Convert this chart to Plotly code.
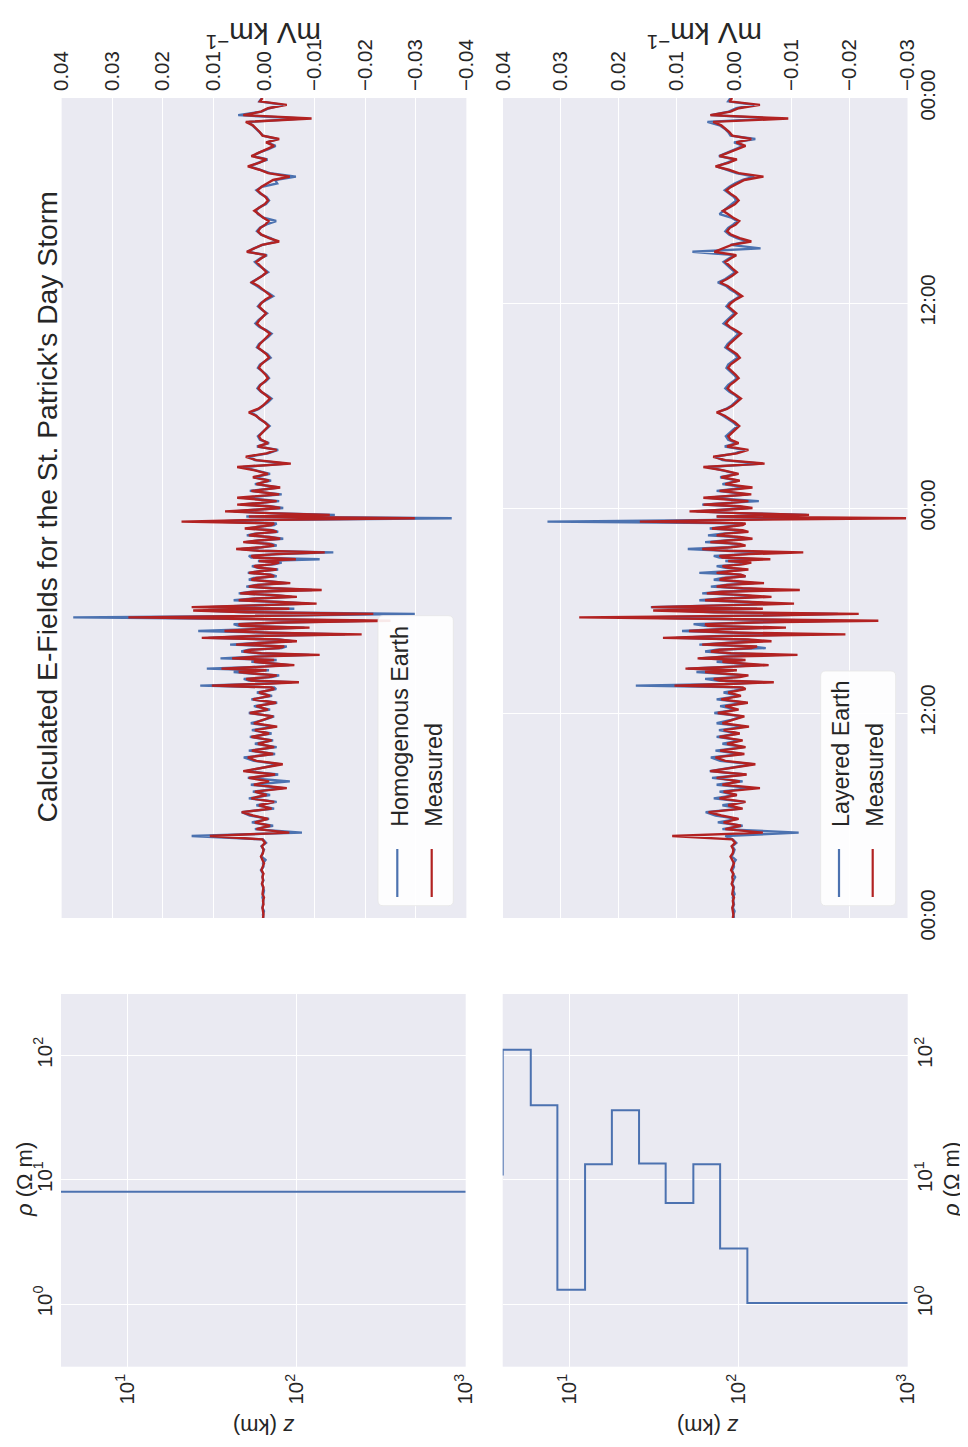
import plotly.graph_objects as go

# page offset (browser body margin) compensated so that pixel positions match the window
OFF = 8
W, H = 968 - OFF, 1447 - OFF
FONT = "Liberation Sans, Arial, sans-serif"
TXT = "#262626"
BLUE = "#4C72B0"
RED = "#B22222"
BG = "#EAEAF2"

# ---------------- data ----------------
# Sampling grid, hours after 2015-03-17 00:00 UT: (first sample, step, number of samples)
sampling_segments = [(0.0, 0.2, 68), (13.5, 0.1, 110), (24.6, 0.2, 118)]

# E-field values in units of 1e-3 mV/km
e_measured_milli = [
    # 0.0 - 13.4 h
    0.2, 0.1, 0.2, 0.3, 0.1, 0.2, 0.0, 0.3, 0.2, 0.1, 0.4, 0.2, 0.3, 0.1, 0.5, 0.2, 0.0, 0.3, 0.6, 0.2, 0.1, 0.4, -0.2, 0.3,
    10.7, -5.0,
    1.5, -1.2, 1.8, -0.8, 2.2, 4.4, -1.5, 1.0, -2.0, 2.5, -0.5, 1.8, -4.5, 2.0, -1.0, 3.0, -2.2, 4.1, 0.5, -3.7, 1.5, 3.2, -1.8, 2.4, -2.0, 1.2, -1.5,
    2.5, -1.0, 1.8, -2.6, 2.0, 0.2, -1.8, 2.8, -0.8, 1.5, -2.4, 2.2, -1.2, 1.0, -2.0,
    # 13.5 - 24.4 h
    -1.5, 10.3, 1.0, -6.9, 2.5, 3.5, -1.0, -2.5, 1.5, 5.0, -0.5, 8.4, 1.0, -6.0, -1.5, 2.0, -2.0, 6.3, 1.5, -11.0,
    0.5, 4.0, 2.5, -3.0, -4.0, 5.5, 1.0, -6.5, -2.5, 12.3, 3.0, -19.3, -1.0, 7.8, 2.0, -9.0, 4.5, 5.0, -3.5, -25.0,
    2.0, 26.8, -4.0, -21.6, 3.0, 14.0, -5.0, 14.3, 2.0, -10.4, -3.0, 5.0, 1.5, -6.5, -2.0, 4.7, 2.0, -11.4, -1.5, 3.0,
    1.2, -5.2, -1.0, 2.5, 1.5, -2.0, -1.2, 3.0, 0.8, -2.5, 1.0, 2.0, -1.5, -3.0, 1.0, -6.3, 2.0, 2.5, -2.5, -12.0,
    1.0, 5.5, 0.5, -2.0, -1.0, 4.1, 1.0, -3.2, -1.0, 3.0, 1.5, -2.5, -1.5, 3.8, 1.0, -1.5, -2.0, 16.3, 2.0, -29.8,
    3.0, -13.0, -1.0, 7.7, 1.5, -3.2, -1.0, 5.3, 0.5, -2.5,
    # 24.6 - 48.0 h
    5.3, -3.0, 2.5, -3.2, 1.5, -1.0, 2.2, -0.8, 1.8, 5.3, -5.3, 1.5, 3.6, -0.5, -2.5, 1.2, -0.8,
    0.6, 1.0, 0.4, -0.3, -0.9, -0.2, 0.8, 1.6, 3.0, 1.2, 0.2, -0.6, -1.2, -0.4, 0.5, 1.1, 0.7, -0.1, -0.8, -0.3, 0.4,
    1.0, 0.6, -0.2, -1.0, -0.5, 0.3, 1.2, 0.8, 0.1, -0.6,
    -1.2, -0.3, 0.7, 1.4, 0.9, 0.2, -0.4, 0.3, 1.0, 0.5,
    -0.3, -1.4, -0.6, 0.4, 1.1, 2.4, 1.2, 0.3, -0.5, 0.2,
    0.9, 1.5, 0.6, -0.4, 3.4, 1.8, 0.4, -3.0, -1.0, 0.5,
    1.2, 0.7, -0.3, -0.9, 0.2, 1.0, 1.9, 0.8, -0.2, -0.8,
    -0.3, 0.6, 1.3, 0.5, -0.6, -1.8, -5.1, -0.8, 0.9, 3.2,
    1.0, -0.5, 2.5, 0.9, -0.6, -2.0, -0.4, -3.0, 0.3, 0.8,
    1.5, 2.2, 3.6, -9.4, 4.1, 0.6, -0.8, -4.5, 0.8, 0.3,
]

e_homogeneous_milli = [
    # 0.0 - 13.4 h
    0.1, 0.2, 0.0, 0.3, 0.2, 0.1, 0.3, 0.2, 0.0, 0.2, 0.4, 0.1, 0.3, 0.2, 0.6, 0.1, 0.2, -0.3, 0.5, 0.3, 0.0, 0.5, -0.4, 0.2,
    14.3, -7.5,
    1.8, -1.8, 2.4, -1.0, 2.8, 4.4, -2.0, 1.5, -2.5, 3.0, -1.2, 2.2, -3.8, 2.6, -5.1, 3.2, -2.8, 3.5, 0.2, -3.0, 2.0, 4.0, -2.2, 3.0, -2.5, 1.8, -1.8,
    2.8, -1.5, 2.4, -2.2, 2.6, 0.0, -2.0, 3.0, -1.2, 2.0, -2.6, 2.5, -1.6, 1.4, -2.4,
    # 13.5 - 24.4 h
    -2.0, 12.6, 1.5, -5.5, 3.0, 4.0, -1.5, -3.0, 2.0, 6.0, -1.0, 11.3, 1.5, -5.0, -2.0, 2.5, -2.5, 8.6, 2.0, -9.0,
    1.0, 4.5, 3.0, -3.5, -4.5, 6.7, 1.5, -5.5, -3.0, 11.0, 3.5, -16.0, -1.5, 13.0, 2.5, -8.0, 5.0, 6.0, -4.0, -20.0,
    2.5, 37.7, -5.0, -29.8, 3.5, 12.0, -6.0, 11.0, 2.5, -9.0, -3.5, 6.0, 2.0, -5.5, -2.5, 5.0, 2.5, -9.5, -2.0, 3.5,
    1.5, -4.5, -1.5, 3.0, 2.0, -2.5, -1.5, 3.2, 1.0, -2.8, 1.2, 2.4, -2.0, -3.5, 1.2, -11.0, 2.5, 3.0, -3.0, -13.7,
    1.2, 4.5, 0.5, -2.5, -1.5, 3.6, 1.2, -3.8, -1.2, 3.4, 1.8, -2.8, -1.8, 3.2, 1.2, -2.0, -2.5, 10.0, 2.5, -37.1,
    3.5, -14.0, -1.2, 6.0, 1.8, -3.8, -1.2, 4.6, 0.6, -3.0,
    # 24.6 - 48.0 h
    4.0, -3.5, 2.8, -3.0, 1.8, -1.4, 2.0, -1.2, 1.6, 4.2, -4.5, 1.8, 3.0, -0.8, -2.8, 1.4, -1.0,
    0.8, 1.2, 0.5, -0.4, -1.1, -0.3, 0.9, 1.5, 2.6, 1.0, 0.0, -0.8, -1.5, -0.6, 0.6, 1.3, 0.8, -0.3, -1.0, -0.5, 0.3,
    1.2, 0.8, -0.4, -1.3, -0.7, 0.4, 1.4, 1.0, 0.0, -0.8,
    -1.5, -0.5, 0.9, 1.7, 1.1, 0.3, -0.6, 0.4, 1.2, 0.6,
    -0.5, -1.8, -0.8, 0.5, 1.4, 2.6, 1.4, 0.2, -0.8, 0.1,
    1.1, 1.8, 0.8, -0.6, 3.3, 2.0, 0.3, -2.6, -1.3, 0.6,
    1.4, 0.8, -0.5, -2.4, 0.1, 1.2, 1.6, 0.9, -0.4, -1.0,
    -0.5, 0.7, 1.5, 0.4, -2.6, -2.2, -6.3, -1.2, 1.0, 2.8,
    1.2, -0.7, 2.2, 1.0, -0.9, -2.3, -0.6, -2.6, 0.2, 0.9,
    1.8, 2.4, 3.0, -7.5, 5.1, 0.5, -1.0, -3.8, 0.9, 0.4,
]

e_layered_milli = [
    # 0.0 - 13.4 h
    0.0, 0.1, -0.1, 0.2, 0.0, 0.1, 0.2, -0.1, 0.1, 0.0, 0.3, 0.1, -0.2, 0.2, 0.3, 0.0, 0.1, -0.3, 0.4, 0.1, -0.1, 0.3, -0.4, 0.2,
    1.5, -11.2,
    2.0, -1.5, 2.8, -0.6, 3.2, 4.9, -1.2, 2.0, -1.8, 3.5, -0.4, 2.5, -3.0, 3.0, -1.5, 3.8, -2.0, 4.2, 0.8, -3.2, 2.4, 4.0, -1.4, 3.2, -1.8, 2.0, -1.2,
    3.0, -0.8, 2.6, -2.0, 3.0, 0.5, -1.5, 3.4, -0.5, 2.4, -2.0, 3.0, -1.0, 1.8, -1.6,
    # 13.5 - 24.4 h
    -1.0, 17.0, 1.5, -5.0, 3.0, 5.0, -0.5, -2.0, 2.0, 6.5, 0.0, 8.0, 1.5, -4.5, -1.0, 3.0, -1.5, 6.0, 2.0, -7.2,
    1.0, 5.0, 3.0, -5.5, -3.0, 6.0, 1.5, -4.0, -2.0, 10.0, 3.5, -12.0, -0.5, 9.0, 2.5, -6.5, 5.0, 7.0, -3.0, -17.0,
    2.5, 17.6, -3.5, -18.0, 3.5, 10.0, -4.0, 14.4, 2.5, -7.0, -2.5, 6.0, 2.0, -4.5, -1.5, 5.5, 2.5, -7.0, -1.0, 4.0,
    1.5, -3.5, -0.5, 3.5, 2.0, -2.0, -1.0, 6.0, 1.2, -2.0, 1.5, 3.0, -1.0, -2.5, 1.5, -4.0, 2.5, 3.5, -2.0, -6.0,
    1.5, 8.0, 1.0, -1.5, -0.5, 5.0, 1.5, -2.5, -0.5, 4.5, 2.0, -1.8, -1.0, 4.2, 1.5, -1.0, -1.5, 32.3, 2.5, -10.9,
    3.0, -12.6, -0.5, 6.5, 2.0, -2.5, -0.5, 5.5, 1.0, -4.3,
    # 24.6 - 48.0 h
    4.5, -2.5, 3.0, -2.2, 2.0, -0.8, 2.4, -0.5, 2.0, 4.5, -4.9, 2.0, 3.2, -0.2, -1.8, 1.6, -0.5,
    1.0, 1.4, 0.7, 0.0, -0.6, 0.1, 1.1, 1.9, 2.8, 1.4, 0.4, -0.3, -0.9, -0.2, 0.8, 1.5, 1.0, 0.2, -0.5, 0.0, 0.7,
    1.3, 1.0, 0.2, -0.6, -0.2, 0.6, 1.5, 1.1, 0.4, -0.3,
    -0.8, 0.0, 1.0, 1.8, 1.2, 0.5, -0.1, 0.6, 1.3, 0.8,
    0.0, -1.0, -0.3, 0.7, 1.4, 2.8, 1.5, 0.6, -0.2, 0.5,
    1.2, 1.8, 0.9, -0.1, 7.2, -4.6, 0.6, -2.4, -0.5, 0.8,
    1.5, 1.0, 0.1, -0.5, 0.5, 2.5, 1.8, 1.0, 0.2, -0.4,
    0.0, 0.9, 1.6, 0.8, -0.2, -1.5, -3.5, -0.4, 1.2, 3.0,
    1.3, -0.2, 2.6, 1.2, -0.3, -1.6, 0.0, -3.7, 0.6, 1.0,
    1.6, 2.5, 4.6, -6.5, 4.0, 0.9, -0.4, -3.5, 1.0, 0.6,
]

efield_tickvals = [0.04, 0.03, 0.02, 0.01, 0.0, -0.01, -0.02, -0.03, -0.04]
efield_ticktext = ["0.04", "0.03", "0.02", "0.01", "0.00", "\u22120.01", "\u22120.02", "\u22120.03", "\u22120.04"]
time_tickvals = [0, 12, 24, 36, 48]
time_ticktext = ["00:00", "12:00", "00:00", "12:00", "00:00"]

# resistivity models
homog_z_km = [4.0, 1000.0]
homog_rho = [8.0, 8.0]
layer_z_km = [4.055, 4.055, 5.94, 8.53, 12.43, 17.9, 25.9, 37.2, 54.2, 78.0, 113.0, 1000.0]
layer_rho = [10.8, 111.0, 39.6, 1.30, 13.3, 36.1, 13.5, 6.49, 13.3, 2.79, 1.02, 1.02]
z_tickvals = [10, 100, 1000]
z_ticktext = ["10<sup>1</sup>", "10<sup>2</sup>", "10<sup>3</sup>"]
rho_tickvals = [1, 10, 100]
rho_ticktext = ["10<sup>0</sup>", "10<sup>1</sup>", "10<sup>2</sup>"]

hours = []
for start, step, count in sampling_segments:
    hours += [round(start + step * k, 2) for k in range(count)]
assert len(hours) == len(e_measured_milli) == len(e_homogeneous_milli) == len(e_layered_milli), \
    (len(hours), len(e_measured_milli), len(e_homogeneous_milli), len(e_layered_milli))
e_measured = [v / 1000.0 for v in e_measured_milli]
e_homog = [v / 1000.0 for v in e_homogeneous_milli]
e_layered = [v / 1000.0 for v in e_layered_milli]


# ---------------- helpers (window pixel -> paper) ----------------
def px(x):
    return (x - OFF) / W


def py(y):
    return 1 - (y - OFF) / H


LW = 2.4
fig = go.Figure()
fig.add_trace(go.Scatter(x=e_homog, y=hours, mode="lines", line=dict(color=BLUE, width=LW),
                         xaxis="x", yaxis="y", showlegend=False))
fig.add_trace(go.Scatter(x=e_measured, y=hours, mode="lines", line=dict(color=RED, width=LW),
                         xaxis="x", yaxis="y", showlegend=False))
fig.add_trace(go.Scatter(x=e_layered, y=hours, mode="lines", line=dict(color=BLUE, width=LW),
                         xaxis="x2", yaxis="y2", showlegend=False))
fig.add_trace(go.Scatter(x=e_measured, y=hours, mode="lines", line=dict(color=RED, width=LW),
                         xaxis="x2", yaxis="y2", showlegend=False))
fig.add_trace(go.Scatter(x=homog_z_km, y=homog_rho, mode="lines", line=dict(color=BLUE, width=2),
                         xaxis="x3", yaxis="y3", showlegend=False))
fig.add_trace(go.Scatter(x=layer_z_km, y=layer_rho, mode="lines", line=dict(color=BLUE, width=2, shape="hv"),
                         xaxis="x4", yaxis="y4", showlegend=False))

tickfont = dict(size=20.5, color=TXT, family=FONT)
common = dict(showgrid=True, gridcolor="white", gridwidth=1.3, zeroline=False, showline=False,
              ticks="", tickfont=tickfont, automargin=False)

efield_y = [py(918), py(98)]
rho_y = [py(1366.7), py(994)]

fig.update_layout(
    width=W, height=H,
    margin=dict(l=0, r=0, t=0, b=0, pad=0, autoexpand=False),
    paper_bgcolor="white", plot_bgcolor=BG,
    font=dict(family=FONT, color=TXT),
    xaxis=dict(domain=[px(61.6), px(466.4)], anchor="y", range=[0.04, -0.04], side="top",
               tickvals=efield_tickvals, ticktext=efield_ticktext, tickangle=-90,
               ticklabelstandoff=6, **common),
    yaxis=dict(domain=efield_y, anchor="x", range=[0, 48], showgrid=False, showticklabels=False,
               zeroline=False, showline=False, ticks="", automargin=False),
    xaxis2=dict(domain=[px(503.0), px(907.5)], anchor="y2", range=[0.0400, -0.03005], side="top",
                tickvals=efield_tickvals, ticktext=efield_ticktext, tickangle=-90,
                ticklabelstandoff=6, **common),
    yaxis2=dict(domain=efield_y, anchor="x2", range=[0, 48], side="right",
                tickvals=time_tickvals, ticktext=time_ticktext, tickangle=-90,
                ticklabelstandoff=6, **common),
    xaxis3=dict(domain=[px(61.0), px(465.7)], anchor="y3", type="log", range=[0.608, 3.0],
                tickvals=z_tickvals, ticktext=z_ticktext, tickangle=-90, ticklabelstandoff=2, **common),
    yaxis3=dict(domain=rho_y, anchor="x3", type="log", range=[-0.504, 2.493], side="left",
                tickvals=rho_tickvals, ticktext=rho_ticktext, tickangle=-90, ticklabelstandoff=4, **common),
    xaxis4=dict(domain=[px(502.7), px(907.7)], anchor="y4", type="log", range=[0.608, 3.0],
                tickvals=z_tickvals, ticktext=z_ticktext, tickangle=-90, ticklabelstandoff=2, **common),
    yaxis4=dict(domain=rho_y, anchor="x4", type="log", range=[-0.504, 2.493], side="right",
                tickvals=rho_tickvals, ticktext=rho_ticktext, tickangle=-90, ticklabelstandoff=3, **common),
)

annotations = []


def add_text(text, x, y, size, angle, xanchor="center", yanchor="middle"):
    annotations.append(dict(text=text, x=px(x), y=py(y), xref="paper", yref="paper",
                            showarrow=False, textangle=angle, xanchor=xanchor, yanchor=yanchor,
                            font=dict(size=size, color=TXT, family=FONT)))


add_text("Calculated E-Fields for the St. Patrick's Day Storm", 47, 507.5, 28.3, -90)
add_text("mV km<sup>\u22121</sup>", 264, 36, 29.5, 180)
add_text("mV km<sup>\u22121</sup>", 705, 36, 29.5, 180)
add_text("<i>\u03c1</i> (\u03a9 m)", 24, 1180, 22, -90)
add_text("<i>\u03c1</i> (\u03a9 m)", 951, 1180, 22, -90)
add_text("<i>z</i> (km)", 264, 1427, 22, 180)
add_text("<i>z</i> (km)", 708, 1427, 22, 180)

# manual rotated legends
shapes = []


def rounded_rect(x0, y0, x1, y1, r):
    pts = [
        f"M {px(x0 + r)},{py(y0)}", f"L {px(x1 - r)},{py(y0)}", f"Q {px(x1)},{py(y0)} {px(x1)},{py(y0 + r)}",
        f"L {px(x1)},{py(y1 - r)}", f"Q {px(x1)},{py(y1)} {px(x1 - r)},{py(y1)}",
        f"L {px(x0 + r)},{py(y1)}", f"Q {px(x0)},{py(y1)} {px(x0)},{py(y1 - r)}",
        f"L {px(x0)},{py(y0 + r)}", f"Q {px(x0)},{py(y0)} {px(x0 + r)},{py(y0)}", "Z",
    ]
    return " ".join(pts)


def legend(x0, y0, x1, y1, entries):
    shapes.append(dict(type="path", path=rounded_rect(x0, y0, x1, y1, 5), xref="paper", yref="paper",
                       fillcolor="rgba(255,255,255,0.9)", line=dict(color="#e6e6e6", width=0.8)))
    for (lx, color, label) in entries:
        shapes.append(dict(type="line", xref="paper", yref="paper", x0=px(lx), x1=px(lx),
                           y0=py(849), y1=py(897), line=dict(color=color, width=2.2)))
        add_text(label, lx + 2, 829, 23.3, -90, xanchor="center", yanchor="bottom")


legend(378, 615.7, 453.3, 905.7, [(397.3, BLUE, "Homogenous Earth"), (431.7, RED, "Measured")])
legend(820.7, 671, 895.7, 905.7, [(839.0, BLUE, "Layered Earth"), (872.7, RED, "Measured")])

fig.update_layout(annotations=annotations, shapes=shapes)
fig.write_html("out.html")
